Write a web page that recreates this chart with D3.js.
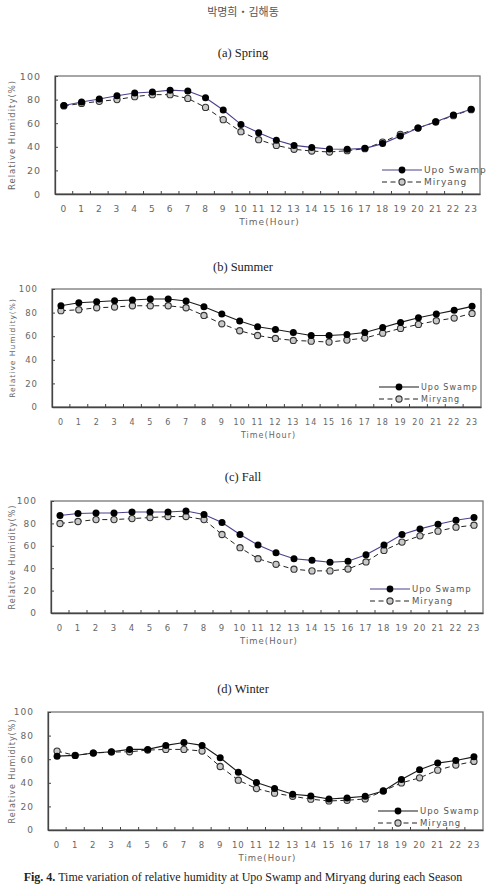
<!DOCTYPE html>
<html>
<head>
<meta charset="utf-8">
<script src="https://cdn.jsdelivr.net/npm/d3@7"></script>
<style>
  body { margin: 0; background: #fff; }
  .tick-label { font-family: "DejaVu Sans", sans-serif; font-size: 8.5px; fill: #666; letter-spacing: 1px; }
  .serif { font-family: "Liberation Serif", serif; fill: #222; }
</style>
</head>
<body>
<svg id="chart" width="487" height="885"></svg>
<script>
// hours and y ticks
var hours = d3.range(0, 24);
var yTicks = [0, 20, 40, 60, 80, 100];

// relative humidity (%)
var springUpo     = [75, 78, 80.5, 83.3, 85.6, 86.4, 88, 87.3, 81.6, 71.2, 59, 52, 45.5, 41.2, 39.5, 38.1, 37.9, 38.7, 42.7, 49.2, 55.9, 61.3, 67, 71.8];
var springMiryang = [74.6, 76.8, 78.5, 80, 82.5, 84.2, 84.2, 81, 73.4, 63, 52.8, 46, 41.2, 37.9, 36.4, 35.6, 36.7, 38.4, 44, 50.6, 55.9, 61, 66.4, 71.5];
var summerUpo     = [85.8, 88.4, 89.2, 90.1, 90.7, 91.5, 91.5, 89.8, 85, 78.8, 72.8, 68, 65.7, 63.2, 60.6, 60.6, 61.5, 63.2, 67.4, 71.7, 75.6, 78.8, 81.9, 85.3];
var summerMiryang = [81.6, 82.4, 84.1, 84.7, 85.8, 85.8, 85.8, 84.1, 77.6, 70.5, 64.6, 60.6, 58.1, 56.4, 55.8, 55, 56.7, 58.4, 62.6, 66.6, 70, 73.1, 75.4, 79.3];
var fallUpo       = [87, 88.8, 89.3, 89.3, 90.2, 90.2, 90.2, 91.1, 87.9, 80.8, 70.1, 60.7, 53.8, 48.5, 47, 45.3, 46.2, 52.1, 60.7, 70.1, 75.1, 79.3, 82.8, 85.2];
var fallMiryang   = [79.9, 81.7, 83.4, 83.4, 84.3, 85.2, 86.1, 86.1, 83.4, 70.1, 58.3, 48.5, 43.5, 39.1, 37.6, 37.6, 39.3, 45.6, 55.9, 63.3, 68.9, 73.1, 76.6, 78.4];
var winterUpo     = [62.6, 63.2, 65.2, 66.3, 68.3, 68.3, 71.7, 74.2, 71.7, 61.2, 49, 40.2, 35.1, 30.3, 28.9, 26.3, 27.2, 28.6, 33.1, 42.8, 51, 56.7, 58.9, 62];
var winterMiryang = [66.9, 63.2, 65.2, 66, 66.3, 67.7, 68.3, 68.3, 66.9, 53.8, 42.2, 35.1, 31.2, 28.6, 26.1, 24.6, 25.2, 26.3, 33.1, 39.9, 44.2, 50.7, 55, 58.1];

var seriesNames = ["Upo Swamp", "Miryang"];

var panels = [
  {title: "(a) Spring", upo: springUpo, mir: springMiryang, left: 55, right: 480, top: 76, bottom: 194, titleY: 57, upoColor: "#4a418c", legX: 382, legY: 170, font: 9},
  {title: "(b) Summer", upo: summerUpo, mir: summerMiryang, left: 52, right: 481, top: 289, bottom: 407, titleY: 271, upoColor: "#1a1a1a", legX: 379, legY: 387, font: 8},
  {title: "(c) Fall", upo: fallUpo, mir: fallMiryang, left: 51, right: 483, top: 501, bottom: 613, titleY: 481, upoColor: "#4a418c", legX: 370, legY: 589, font: 8.5},
  {title: "(d) Winter", upo: winterUpo, mir: winterMiryang, left: 48, right: 483, top: 712, bottom: 830, titleY: 693, upoColor: "#1a1a1a", legX: 378, legY: 811, font: 8.5}
];

var svg = d3.select("#chart");

// header
svg.append("text").attr("class", "serif")
  .attr("x", 243).attr("y", 16).attr("text-anchor", "middle")
  .style("font-family", "'Noto Sans CJK KR', sans-serif").style("font-size", "11px").style("fill", "#555")
  .text("박명희・김해동");

panels.forEach(function(p) {
  var x = d3.scaleBand().domain(hours).range([p.left, p.right]);
  var y = d3.scaleLinear().domain([0, 100]).range([p.bottom, p.top]);
  var cx = function(d, i) { return x(i) + x.bandwidth() / 2; };

  svg.append("text").attr("class", "serif")
    .attr("x", 243).attr("y", p.titleY).attr("text-anchor", "middle")
    .style("font-size", "12.5px").text(p.title);

  var g = svg.append("g");

  // frame
  g.append("rect")
    .attr("x", p.left).attr("y", p.top)
    .attr("width", p.right - p.left).attr("height", p.bottom - p.top)
    .attr("fill", "none").attr("stroke", "#777").attr("stroke-width", 1.3);

  // x axis: inward ticks at band edges
  var xa = g.append("g").attr("transform", "translate(0," + p.bottom + ")")
    .call(d3.axisBottom(x).tickSizeInner(-3).tickSizeOuter(0).tickPadding(12));
  xa.select(".domain").attr("stroke", "#444").attr("stroke-width", 1.3);
  xa.selectAll(".tick line")
    .attr("transform", "translate(" + (x.bandwidth() / 2) + ",0)")
    .attr("stroke", "#444");
  xa.selectAll(".tick:last-of-type line").remove();
  xa.selectAll(".tick text").attr("class", "tick-label").attr("fill", null)
    .style("font-size", p.font + "px");

  // y axis
  var ya = g.append("g").attr("transform", "translate(" + p.left + ",0)")
    .call(d3.axisLeft(y).tickValues(yTicks).tickSizeInner(-3).tickSizeOuter(0).tickPadding(14));
  ya.select(".domain").attr("stroke", "#444").attr("stroke-width", 1.3);
  ya.selectAll(".tick line").attr("stroke", "#444");
  ya.selectAll(".tick text").attr("class", "tick-label").attr("fill", null)
    .style("font-size", (p.font + 0.5) + "px");

  // axis titles
  g.append("text").attr("class", "tick-label")
    .attr("x", (p.left + p.right) / 2 + 2).attr("y", p.bottom + 31)
    .attr("text-anchor", "middle").style("font-size", p.font + "px")
    .text("Time(Hour)");
  g.append("text").attr("class", "tick-label")
    .attr("transform", "translate(15," + (p.top + p.bottom) / 2 + ") rotate(-90)")
    .attr("text-anchor", "middle").style("font-size", (p.font - 0.5) + "px")
    .text("Relative Humidity(%)");

  var line = d3.line().x(cx).y(function(d) { return y(d); });

  // Miryang (dashed, open markers)
  g.append("path").datum(p.mir).attr("d", line)
    .attr("fill", "none").attr("stroke", "#222").attr("stroke-width", 1)
    .attr("stroke-dasharray", "5,3.5");
  // Upo Swamp (solid)
  g.append("path").datum(p.upo).attr("d", line)
    .attr("fill", "none").attr("stroke", p.upoColor).attr("stroke-width", 1.1);

  g.selectAll(".mir").data(p.mir).enter().append("circle")
    .attr("cx", cx).attr("cy", function(d) { return y(d); }).attr("r", 3.1)
    .attr("fill", "#c8c8c8").attr("stroke", "#333").attr("stroke-width", 1.1);
  g.selectAll(".upo").data(p.upo).enter().append("circle")
    .attr("cx", cx).attr("cy", function(d) { return y(d); }).attr("r", 3.5)
    .attr("fill", "#000");

  // legend
  var leg = g.append("g").attr("transform", "translate(" + p.legX + "," + p.legY + ")");
  leg.append("line").attr("x1", 0).attr("x2", 40).attr("y1", 0).attr("y2", 0)
    .attr("stroke", p.upoColor).attr("stroke-width", 1.1);
  leg.append("circle").attr("cx", 20).attr("cy", 0).attr("r", 3.4).attr("fill", "#000");
  leg.append("text").attr("class", "tick-label").attr("x", 42).attr("y", 3)
    .style("font-size", p.font + "px").style("fill", "#555").text(seriesNames[0]);
  leg.append("line").attr("x1", 0).attr("x2", 40).attr("y1", 12).attr("y2", 12)
    .attr("stroke", "#222").attr("stroke-width", 1).attr("stroke-dasharray", "5,3.5");
  leg.append("circle").attr("cx", 20).attr("cy", 12).attr("r", 3.1)
    .attr("fill", "#c8c8c8").attr("stroke", "#333").attr("stroke-width", 1.1);
  leg.append("text").attr("class", "tick-label").attr("x", 42).attr("y", 15)
    .style("font-size", p.font + "px").style("fill", "#555").text(seriesNames[1]);
});

// caption
var cap = svg.append("text").attr("class", "serif")
  .attr("x", 243).attr("y", 881).attr("text-anchor", "middle").style("font-size", "12px");
cap.append("tspan").style("font-weight", "bold").text("Fig. 4.");
cap.append("tspan").text(" Time variation of relative humidity at Upo Swamp and Miryang during each Season");
</script>
</body>
</html>
